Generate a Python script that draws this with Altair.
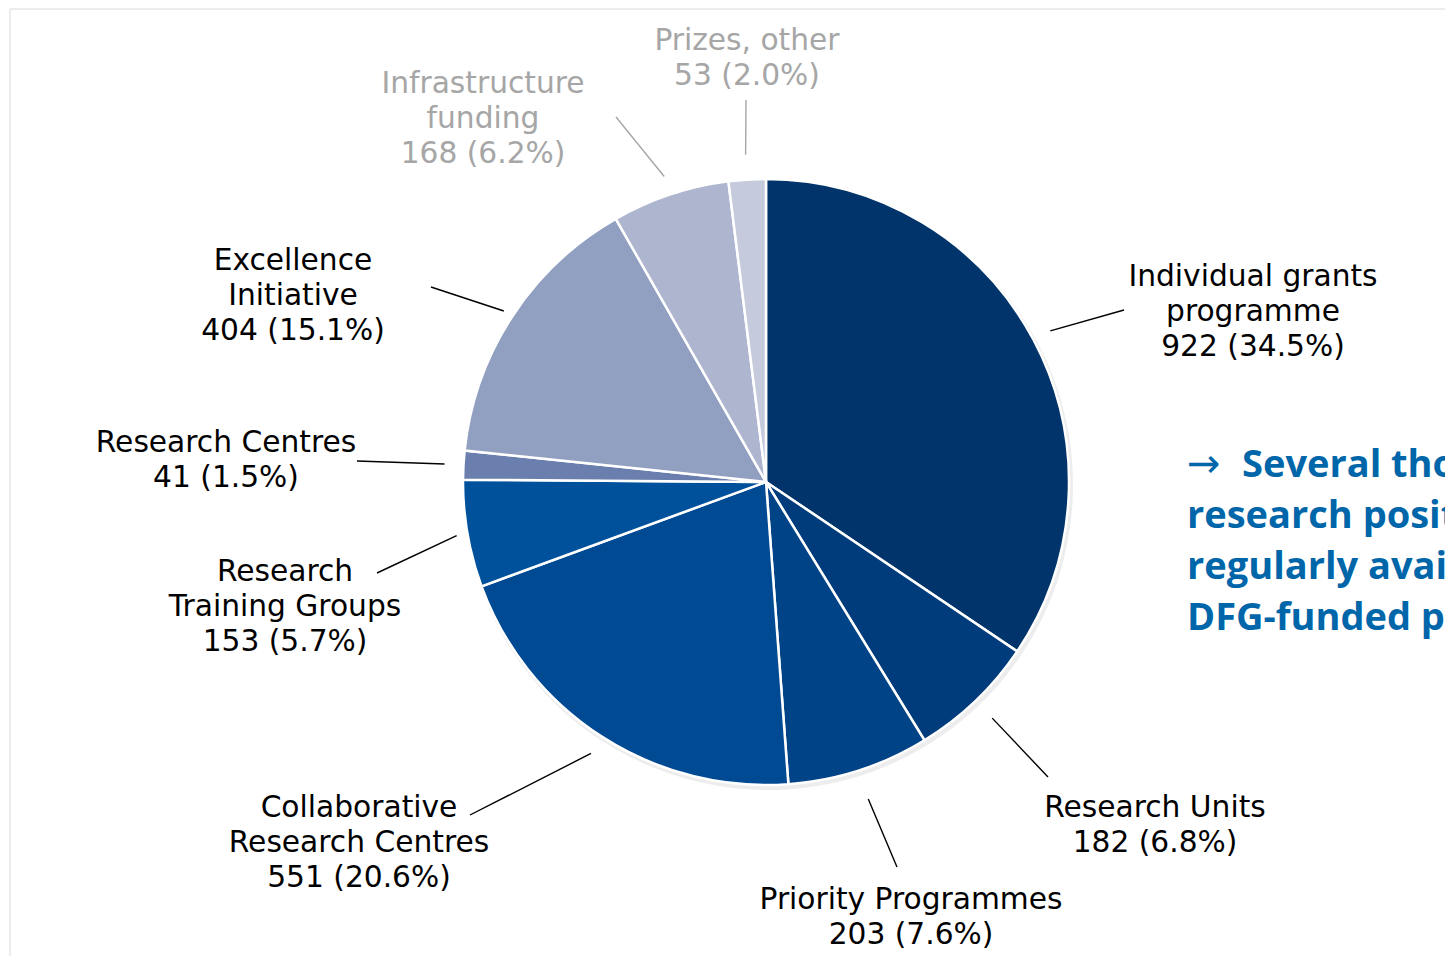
import math
import altair as alt
import pandas as pd

# ---------------- data ----------------
categories = ["Individual grants programme", "Research Units", "Priority Programmes",
              "Collaborative Research Centres", "Research Training Groups", "Research Centres",
              "Excellence Initiative", "Infrastructure funding", "Prizes, other"]
values = [922, 182, 203, 551, 153, 41, 404, 168, 53]
percents = ["34.5%", "6.8%", "7.6%", "20.6%", "5.7%", "1.5%", "15.1%", "6.2%", "2.0%"]
label_lines = [["Individual grants", "programme"], ["Research Units"], ["Priority Programmes"],
               ["Collaborative", "Research Centres"], ["Research", "Training Groups"],
               ["Research Centres"], ["Excellence", "Initiative"],
               ["Infrastructure", "funding"], ["Prizes, other"]]
note_arrow = "\u2192"
note_lines = ["Several thousand", "research positions", "regularly available in",
              "DFG-funded projects"]

# ---------------- styles ----------------
slice_colors = ["#00346b", "#003c7b", "#004386", "#004a93", "#00519c",
                "#6a7fad", "#919fc0", "#aeb6cf", "#c5cbdc"]
label_colors = ["#000000"] * 7 + ["#a6a6a6"] * 2

# ---------------- layout ----------------
W, H = 1437, 948
CX, CY, R = 758, 474, 303
LINE_H = 35
label_anchor = [(1245, 269), (1147, 800), (903, 892), (351, 800), (277, 564),
                (218, 435), (285, 253), (475, 76), (739, 33)]
leader_end = [(1116, 302), (1040, 769), (889, 859), (462, 807), (369, 565),
              (349, 453), (423, 279), (608, 109), (738, 92)]
leader_r = [322, 327, 333, 323, 314, 322, 313, 322, 328]
note_x, note_first_x, note_y, note_dy = 1179, 1234, 469, 51

# ---------------- tables ----------------
pie_df = pd.DataFrame({"category": categories, "value": values, "idx": range(len(values))})

total = sum(values)
cum = 0
lead_rows, text_rows = [], []
for i, v in enumerate(values):
    mid = (cum + v / 2) / total * 2 * math.pi
    cum += v
    sx = CX + leader_r[i] * math.sin(mid)
    sy = CY - leader_r[i] * math.cos(mid)
    ex, ey = leader_end[i]
    lead_rows.append({"x": sx, "y": sy, "x2": ex, "y2": ey, "c": label_colors[i]})
    lines = label_lines[i] + [f"{v} ({percents[i]})"]
    ax, ay = label_anchor[i]
    for j, t in enumerate(lines):
        text_rows.append({"x": ax, "y": ay + j * LINE_H, "text": t, "c": label_colors[i]})
lead_df = pd.DataFrame(lead_rows)
text_df = pd.DataFrame(text_rows)
note_df = pd.DataFrame({"x": [note_first_x] + [note_x] * (len(note_lines) - 1),
                        "y": [note_y + k * note_dy for k in range(len(note_lines))],
                        "text": note_lines})
arrow_df = pd.DataFrame({"x": [note_x], "y": [note_y], "text": [note_arrow]})
frame_df = pd.DataFrame({"x": [2, 2], "y": [1, 1], "x2": [W, 2], "y2": [1, H]})

xs = alt.Scale(domain=[0, W], nice=False, zero=False)
ys = alt.Scale(domain=[0, H], nice=False, zero=False, reverse=True)

frame = alt.Chart(frame_df).mark_rule(color="#ececec", strokeWidth=2).encode(
    x=alt.X("x:Q", scale=xs, axis=None), y=alt.Y("y:Q", scale=ys, axis=None),
    x2="x2:Q", y2="y2:Q")

shadow = alt.Chart(pie_df).mark_arc(outerRadius=R + 2, color="#d6d6d6", opacity=0.45).encode(
    theta=alt.Theta("value:Q", stack=True),
    x=alt.value(CX + 2), y=alt.value(CY + 3))

pie = alt.Chart(pie_df).mark_arc(outerRadius=R, stroke="white", strokeWidth=2.5).encode(
    theta=alt.Theta("value:Q", stack=True),
    color=alt.Color("category:N", scale=alt.Scale(domain=categories, range=slice_colors),
                    legend=None),
    order=alt.Order("idx:Q"),
    x=alt.value(CX), y=alt.value(CY))

leaders = alt.Chart(lead_df).mark_rule(strokeWidth=1.4).encode(
    x=alt.X("x:Q", scale=xs, axis=None), y=alt.Y("y:Q", scale=ys, axis=None),
    x2="x2:Q", y2="y2:Q", color=alt.Color("c:N", scale=None))

labels = alt.Chart(text_df).mark_text(font="DejaVu Sans", fontSize=29.7, align="center",
                                      baseline="middle").encode(
    x=alt.X("x:Q", scale=xs, axis=None), y=alt.Y("y:Q", scale=ys, axis=None),
    text="text:N", color=alt.Color("c:N", scale=None))

note = alt.Chart(note_df).mark_text(font="Open Sans", fontSize=38, fontWeight="bold",
                                    align="left", baseline="alphabetic", color="#0066aa",
                                    clip=True).encode(
    x=alt.X("x:Q", scale=xs, axis=None), y=alt.Y("y:Q", scale=ys, axis=None),
    text="text:N")

arrow = alt.Chart(arrow_df).mark_text(font="DejaVu Sans", fontSize=40, align="left",
                                      baseline="alphabetic", color="#0066aa").encode(
    x=alt.X("x:Q", scale=xs, axis=None), y=alt.Y("y:Q", scale=ys, axis=None),
    text="text:N")

chart = alt.layer(frame, shadow, pie, leaders, labels, note, arrow).properties(
    width=W, height=H, padding=0, autosize=alt.AutoSizeParams(type="none"),
    background="white"
).configure_view(stroke=None)

chart.save("out.html", embed_options={"renderer": "svg", "actions": False})
